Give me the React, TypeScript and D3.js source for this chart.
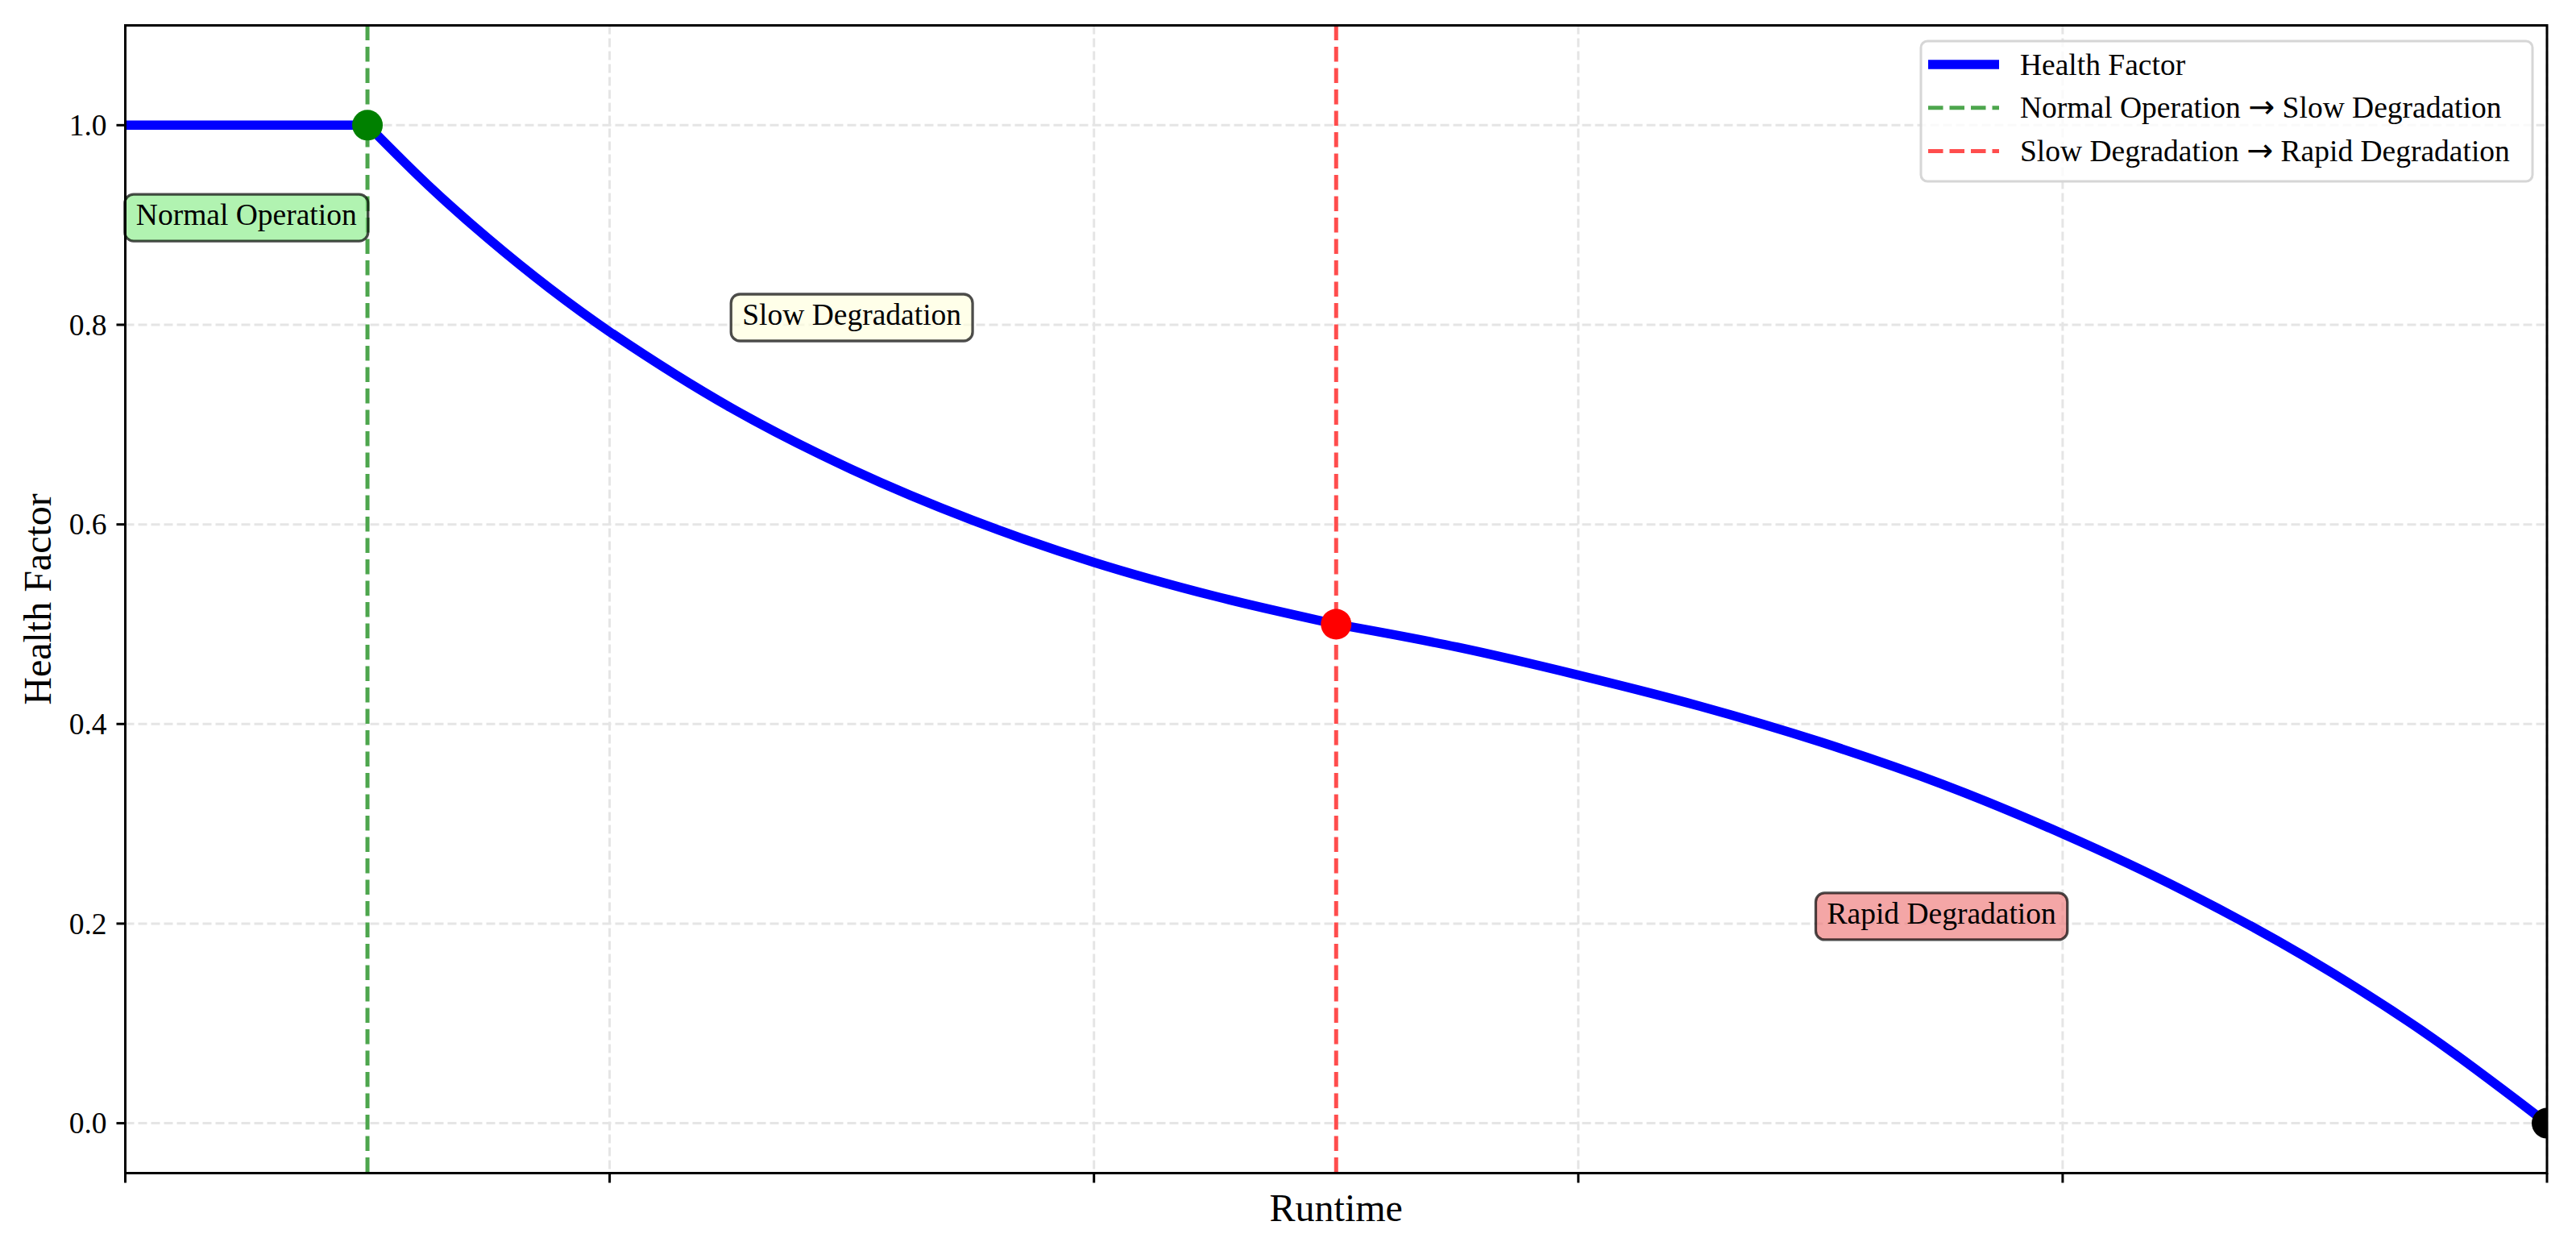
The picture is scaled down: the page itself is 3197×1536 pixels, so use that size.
import React from "react";
import * as d3 from "d3";

// ---- data ----
const xTicks = [0, 0.2, 0.4, 0.6, 0.8, 1.0];
const yTicks = [0.0, 0.2, 0.4, 0.6, 0.8, 1.0];

const normalX = [0, 0.05, 0.1];
const normalY = [1.0, 1.0, 1.0];
const slowX = [0.1, 0.125, 0.15, 0.175, 0.2, 0.25, 0.3, 0.35, 0.4, 0.45, 0.5];
const slowY = [1.0, 0.94, 0.886, 0.837, 0.793, 0.717, 0.655, 0.604, 0.562, 0.528, 0.5];
const rapidX = [0.5, 0.55, 0.6, 0.65, 0.7, 0.75, 0.8, 0.85, 0.9, 0.95, 1.0];
const rapidY = [0.5, 0.477, 0.449, 0.418, 0.382, 0.34, 0.29, 0.233, 0.167, 0.09, 0.0];

const transitionX = [0.1, 0.5];
const transitionY = [1.0, 0.5];
const transitionColors = ["#008000", "#ff0000"];
const transitionLineColors = ["#4da64d", "#ff4d4d"];
const endX = 1.0;
const endY = 0.0;

const phaseNames = ["Normal Operation", "Slow Degradation", "Rapid Degradation"];
const phaseLabelX = [0.05, 0.3, 0.75];
const phaseLabelY = [0.9, 0.8, 0.2];
const phaseFills = ["#90ee90", "#ffffe0", "#f08080"];

const legendFrom = ["Normal Operation", "Slow Degradation"];
const legendTo = ["Slow Degradation", "Rapid Degradation"];
const legendMain = "Health Factor";

const FONT = "'Liberation Serif', 'Times New Roman', serif";

function measure(text: string, size: number) {
  const c = document.createElement("canvas");
  const ctx = c.getContext("2d")!;
  ctx.font = `${size}px 'Liberation Serif'`;
  return ctx.measureText(text).width;
}

export default function App() {
  const W = 3197, H = 1536;
  const L = 155.5, R = 3161, T = 31.5, B = 1455.5;
  const x = d3.scaleLinear().domain([0, 1]).range([L, R]);
  const y = d3.scaleLinear().domain([-0.05, 1.1]).range([B, T]);

  const line = d3
    .line<[number, number]>()
    .x((d) => x(d[0]))
    .y((d) => y(d[1]))
    .curve(d3.curveCatmullRom.alpha(0.5));

  const seg = (xs: number[], ys: number[]) => line(xs.map((v, i) => [v, ys[i]] as [number, number])) || "";

  const tickFont = 37.5;
  const labelFont = 48;

  return (
    <div style={{ position: "absolute", left: 0, top: 0 }}>
      <svg width={W} height={H} style={{ display: "block", background: "#fff" }} fontFamily={FONT}>
        <defs>
          <clipPath id="plotClip">
            <rect x={L} y={T} width={R - L} height={B - T} />
          </clipPath>
        </defs>
        <rect x={0} y={0} width={W} height={H} fill="#fff" />

        {/* grid */}
        {yTicks.map((t) => (
          <line key={"gy" + t} x1={L} x2={R} y1={y(t)} y2={y(t)} stroke="#e5e5e5" strokeWidth={3} strokeDasharray="11 5" />
        ))}
        {xTicks.map((t) => (
          <line key={"gx" + t} x1={x(t)} x2={x(t)} y1={T} y2={B} stroke="#e5e5e5" strokeWidth={3} strokeDasharray="11 5" />
        ))}

        {/* transition lines */}
        {transitionX.map((t, i) => (
          <line key={"tv" + i} x1={x(t)} x2={x(t)} y1={T} y2={B} stroke={transitionLineColors[i]} strokeWidth={5} strokeDasharray="18.5 8" />
        ))}

        {/* health factor curve */}
        <g clipPath="url(#plotClip)">
          <path d={seg(normalX, normalY)} fill="none" stroke="#0000ff" strokeWidth={11.5} strokeLinecap="butt" />
          <path d={seg(slowX, slowY)} fill="none" stroke="#0000ff" strokeWidth={11.5} strokeLinejoin="round" />
          <path d={seg(rapidX, rapidY)} fill="none" stroke="#0000ff" strokeWidth={11.5} strokeLinejoin="round" />
          {transitionX.map((t, i) => (
            <circle key={"dot" + i} cx={x(t)} cy={y(transitionY[i])} r={19} fill={transitionColors[i]} />
          ))}
          <circle cx={x(endX)} cy={y(endY)} r={19} fill="#000" />
        </g>

        {/* phase labels */}
        {phaseNames.map((name, i) => {
          const w = measure(name, tickFont);
          const cx = x(phaseLabelX[i]);
          const by = y(phaseLabelY[i]);
          return (
            <g key={"ph" + i}>
              <rect
                x={cx - w / 2 - 14}
                y={by - 38}
                width={w + 28}
                height={58}
                rx={11}
                ry={11}
                fill={phaseFills[i]}
                fillOpacity={0.7}
                stroke="#000"
                strokeOpacity={0.7}
                strokeWidth={3.3}
              />
              <text x={cx} y={by} textAnchor="middle" fontSize={tickFont} fill="#000">
                {name}
              </text>
            </g>
          );
        })}

        {/* spines */}
        <rect x={L} y={T} width={R - L} height={B - T} fill="none" stroke="#000" strokeWidth={3} />

        {/* y ticks */}
        {yTicks.map((t) => (
          <g key={"yt" + t}>
            <line x1={L - 11} x2={L} y1={y(t)} y2={y(t)} stroke="#000" strokeWidth={3} />
            <text x={L - 23} y={y(t)} dy="0.34em" textAnchor="end" fontSize={tickFont}>
              {t.toFixed(1)}
            </text>
          </g>
        ))}
        {/* x ticks (no labels) */}
        {xTicks.map((t) => (
          <line key={"xt" + t} x1={x(t)} x2={x(t)} y1={B} y2={B + 12} stroke="#000" strokeWidth={3} />
        ))}

        {/* axis labels */}
        <text x={(L + R) / 2} y={1515} textAnchor="middle" fontSize={labelFont}>
          Runtime
        </text>
        <text transform={`translate(63,${(T + B) / 2}) rotate(-90)`} textAnchor="middle" fontSize={labelFont}>
          Health Factor
        </text>

        {/* legend */}
        <g>
          <rect x={2384} y={51} width={759} height={174} rx={8} ry={8} fill="#fff" fillOpacity={0.8} stroke="#d6d6d6" strokeWidth={3} />
          <line x1={2393} x2={2481} y1={80} y2={80} stroke="#0000ff" strokeWidth={11.5} />
          <text x={2507} y={92.7} fontSize={tickFont}>
            {legendMain}
          </text>
          {legendFrom.map((from, i) => {
            const base = 92.7 + (i + 1) * 53.7;
            const hy = base - 12.7;
            return (
              <g key={"lg" + i}>
                <line x1={2393} x2={2481} y1={hy} y2={hy} stroke={transitionLineColors[i]} strokeWidth={5} strokeDasharray="18.5 8" />
                <text x={2507} y={base} fontSize={tickFont}>
                  {from + " "}
                  <tspan fontFamily="'DejaVu Sans'" fontSize={tickFont * 1.05}>
                    {"\u2192"}
                  </tspan>
                  {" " + legendTo[i]}
                </text>
              </g>
            );
          })}
        </g>
      </svg>
    </div>
  );
}
